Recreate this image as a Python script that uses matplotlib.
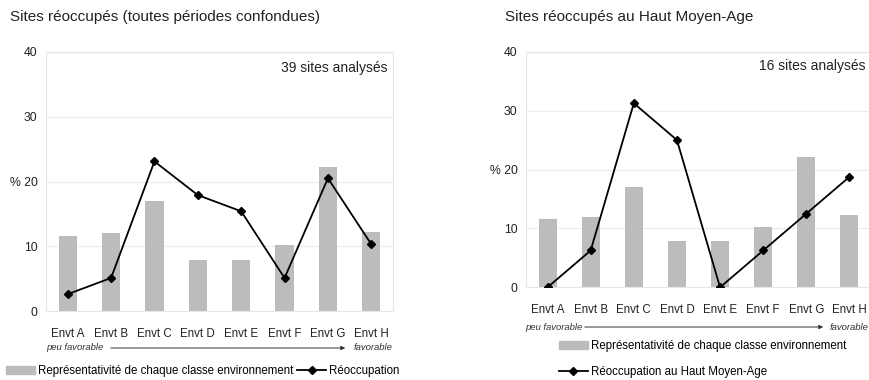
import matplotlib
matplotlib.use('Agg')
import matplotlib.pyplot as plt
import numpy as np
from matplotlib.patches import Patch
from matplotlib.lines import Line2D

plt.rcParams['font.family'] = ['Liberation Sans', 'DejaVu Sans']

categories = ['Envt A', 'Envt B', 'Envt C', 'Envt D', 'Envt E', 'Envt F', 'Envt G', 'Envt H']
# representativite de chaque classe environnement (%)
representativite = [11.6, 12.0, 17.0, 7.8, 7.9, 10.2, 22.2, 12.2]
# reoccupation, toutes periodes (39 sites)
reocc_all = [2.6, 5.1, 23.1, 17.9, 15.4, 5.1, 20.5, 10.3]
# reoccupation au Haut Moyen-Age (16 sites)
reocc_hma = [0.0, 6.25, 31.25, 25.0, 0.0, 6.25, 12.5, 18.75]
yticks = [0, 10, 20, 30, 40]
ytick_labels = ['0', '10', '% 20', '30', '40']

W, H = 870, 380
BAR_COLOR = '#bcbcbc'
GRID_COLOR = '#ececec'


def px(x, y):
    return x / W, 1 - y / H


def draw_panel(ax, values, note):
    x = np.arange(len(categories))
    ax.bar(x, representativite, width=0.42, color=BAR_COLOR, zorder=2)
    ax.plot(x, values, color='black', lw=1.3, marker='D', ms=4.5, zorder=3)
    ax.set_xlim(-0.5, len(categories) - 0.5)
    ax.set_ylim(0, 40)
    ax.set_yticks(yticks)
    ax.set_yticklabels(ytick_labels, fontsize=8.8)
    ax.set_xticks(x)
    ax.set_xticklabels(categories, fontsize=8.3)
    ax.tick_params(length=0, colors='#222222')
    ax.tick_params(axis='y', pad=6)
    ax.tick_params(axis='x', pad=12)
    ax.grid(axis='y', color=GRID_COLOR, lw=0.8, zorder=0)
    for s in ax.spines.values():
        s.set_color('#e6e6e6')
        s.set_linewidth(0.8)
    ax.text(0.985, 0.94, note, transform=ax.transAxes, ha='right', va='center',
            fontsize=10, color='#222222')


fig = plt.figure(figsize=(W / 100, H / 100), dpi=100)

# left panel
ax1 = fig.add_axes([46 / W, 69 / H, 347 / W, 259 / H])
draw_panel(ax1, reocc_all, '39 sites analysés')
fig.text(*px(10, 17), 'Sites réoccupés (toutes périodes confondues)', fontsize=11,
         va='center', color='#222222')
fig.text(*px(46, 348), 'peu favorable', fontsize=6.8, style='italic', va='center', color='#333333')
fig.text(*px(393, 348), 'favorable', fontsize=6.8, style='italic', va='center', ha='right', color='#333333')
ax1.annotate('', xy=px(348, 348), xytext=px(108, 348), xycoords='figure fraction',
             textcoords='figure fraction',
             arrowprops=dict(arrowstyle='-|>', color='#333333', lw=0.7, mutation_scale=6))

# right panel
ax2 = fig.add_axes([526 / W, 92.7 / H, 345 / W, 235.6 / H])
draw_panel(ax2, reocc_hma, '16 sites analysés')
fig.text(*px(505, 17), 'Sites réoccupés au Haut Moyen-Age', fontsize=11,
         va='center', color='#222222')
fig.text(*px(525, 327), 'peu favorable', fontsize=6.8, style='italic', va='center', color='#333333')
fig.text(*px(869, 327), 'favorable', fontsize=6.8, style='italic', va='center', ha='right', color='#333333')
ax2.annotate('', xy=px(826, 327), xytext=px(582, 327), xycoords='figure fraction',
             textcoords='figure fraction',
             arrowprops=dict(arrowstyle='-|>', color='#333333', lw=0.7, mutation_scale=6))

bar_handle = Patch(color=BAR_COLOR)
fig.legend([bar_handle, Line2D([], [], color='black', lw=1.3, marker='D', ms=4.5)],
           ['Représentativité de chaque classe environnement', 'Réoccupation'],
           loc='center left', bbox_to_anchor=px(6, 371), ncol=2, frameon=False,
           fontsize=8.3, handlelength=2.5, handletextpad=0.3, columnspacing=0.3,
           borderpad=0, borderaxespad=0)
fig.legend([bar_handle, Line2D([], [], color='black', lw=1.3, marker='D', ms=4.5)],
           ['Représentativité de chaque classe environnement', 'Réoccupation au Haut Moyen-Age'],
           loc='center left', bbox_to_anchor=px(559, 359), ncol=1, frameon=False,
           fontsize=8.3, handlelength=2.5, handletextpad=0.3, labelspacing=1.2,
           borderpad=0, borderaxespad=0)

fig.savefig('out.png', dpi=100)
